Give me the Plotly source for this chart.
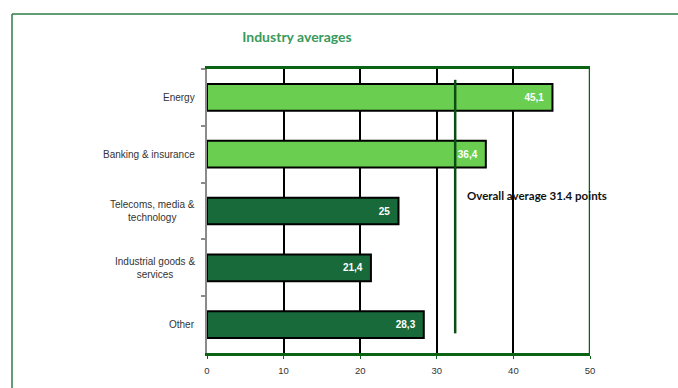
import plotly.graph_objects as go

categories = ["Energy", "Banking & insurance", "Telecoms, media &<br>technology",
              "Industrial goods &<br>services", "Other"]
values = [45.1, 36.4, 25.0, 21.4, 28.3]
value_labels = ["45,1", "36,4", "25", "21,4", "28,3"]
bar_colors = ["#6acf50", "#6acf50", "#186a3b", "#186a3b", "#186a3b"]
x_ticks = [0, 10, 20, 30, 40, 50]
avg_line_x = 32.4
avg_text = "Overall average 31.4 points"
title_text = "Industry averages"

W, H = 678, 388
L, R, T, B = 207, 88, 69, 30
pw, ph = W - L - R, H - T - B

def px_x(p):
    return (p - L) / pw

def px_y(p):
    return (H - B - p) / ph

pad = "\u00a0\u00a0"

fig = go.Figure()
fig.add_trace(go.Bar(
    y=categories, x=values, orientation="h",
    marker=dict(color=bar_colors, line=dict(color="#000000", width=2)),
    width=0.47,
    text=[t + pad for t in value_labels], textposition="inside", insidetextanchor="end",
    textfont=dict(color="white", size=10, family="Arial", weight="bold"),
    hoverinfo="skip",
))

shapes = [
    dict(type="line", xref="paper", yref="paper", x0=px_x(12), x1=px_x(700),
         y0=px_y(13), y1=px_y(13), line=dict(color="#2e7d46", width=1.5)),
    dict(type="line", xref="paper", yref="paper", x0=px_x(12), x1=px_x(12),
         y0=px_y(13), y1=px_y(400), line=dict(color="#2e7d46", width=1.5)),
    dict(type="line", xref="x", yref="paper", x0=50, x1=50, y0=0, y1=1,
         line=dict(color="#0a6414", width=2.5)),
    dict(type="line", xref="x", yref="paper", x0=avg_line_x, x1=avg_line_x,
         y0=px_y(338), y1=px_y(80), line=dict(color="#0b4d12", width=2.5)),
]

annotations = [dict(text=avg_text, x=33.7, xref="x", xanchor="left",
                    y=px_y(198), yref="paper", yanchor="middle", showarrow=False,
                    font=dict(family="Lato", size=11.5, color="#111111", weight="bold"))]
for c in categories:
    annotations.append(dict(text=c, x=px_x(197), xref="paper", xanchor="right",
                            y=c, yref="y", yanchor="middle", align="center",
                            showarrow=False,
                            font=dict(family="Liberation Sans", size=10, color="#333333")))

fig.update_layout(
    width=W, height=H,
    margin=dict(l=L, r=R, t=T, b=B),
    paper_bgcolor="white", plot_bgcolor="white",
    showlegend=False,
    shapes=shapes,
    title=dict(text=title_text, x=px_x(297), xanchor="center", xref="paper",
               y=1 - 37 / H, yanchor="middle",
               font=dict(family="Lato", size=14, color="#3a9a5c", weight="bold")),
    annotations=annotations,
    xaxis=dict(range=[0, 50], tickvals=x_ticks, showgrid=True, gridcolor="#000000",
               gridwidth=1.5, zeroline=False, showline=True, linecolor="#0a6414",
               linewidth=2.5, mirror=True, ticks="outside", ticklen=3, tickcolor="#0a6414",
               ticklabelstandoff=4,
               tickfont=dict(family="Liberation Sans", size=9.5, color="#333333")),
    yaxis=dict(autorange="reversed", showgrid=False, showline=True, linecolor="#8a8a8a",
               linewidth=2, ticks="outside", tickson="boundaries", ticklen=4,
               tickcolor="#8a8a8a", tickwidth=1.5, showticklabels=False),
    bargap=0.5,
)

fig.write_html("out.html")
